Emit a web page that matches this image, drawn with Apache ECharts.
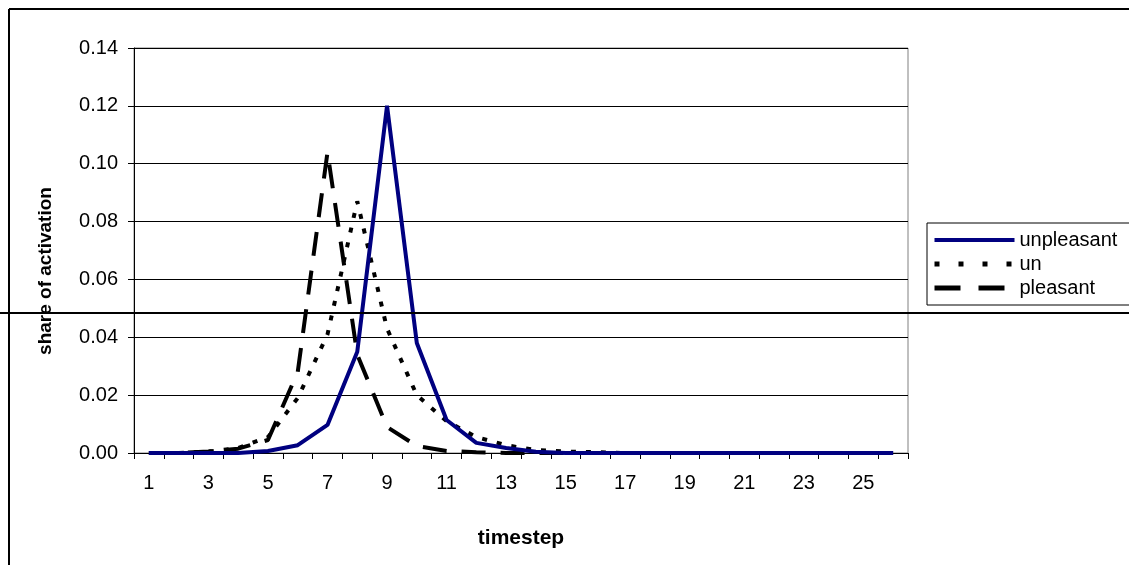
<!DOCTYPE html>
<html>
<head>
<meta charset="utf-8">
<script src="https://cdn.jsdelivr.net/npm/echarts@6/dist/echarts.min.js"></script>
<style>
	html, body { margin: 0; padding: 0; background: #fff; }
	#chart { width: 1129px; height: 565px; }
</style>
</head>
<body>
<div id="chart"></div>
<script>
// values
var timesteps = ['1','2','3','4','5','6','7','8','9','10','11','12','13','14','15','16','17','18','19','20','21','22','23','24','25','26'];
var unpleasant = [0, 0, 0, 0, 0.0007, 0.0027, 0.0097, 0.035, 0.120, 0.038, 0.0114, 0.0035, 0.0017, 0.0004, 0, 0, 0, 0, 0, 0, 0, 0, 0, 0, 0, 0];
var un = [0, 0, 0.0005, 0.0017, 0.0055, 0.019, 0.041, 0.087, 0.043, 0.020, 0.011, 0.0055, 0.0027, 0.001, 0.0005, 0.0003, 0, 0, 0, 0, 0, 0, 0, 0, 0, 0];
var pleasant = [0, 0, 0.0005, 0.0015, 0.0045, 0.028, 0.104, 0.034, 0.009, 0.0024, 0.0007, 0.0003, 0, 0, 0, 0, 0, 0, 0, 0, 0, 0, 0, 0, 0, 0];
var yTicks = { min: 0, max: 0.14, step: 0.02 };

var font = 'Liberation Sans';
var chart = echarts.init(document.getElementById('chart'), null, { renderer: 'canvas' });

chart.setOption({
	animation: false,
	backgroundColor: '#fff',
	textStyle: { fontFamily: font },
	grid: {
		left: 134,
		top: 48,
		width: 774,
		height: 405,
		show: true,
		borderColor: '#808080',
		borderWidth: 1
	},
	legend: {
		orient: 'vertical',
		left: 927,
		top: 223,
		padding: [7, 60, 7, 5],
		itemWidth: 80,
		itemHeight: 20,
		itemGap: 4,
		borderColor: '#000',
		borderWidth: 1,
		itemStyle: { opacity: 0 },
		textStyle: { fontFamily: font, fontSize: 20, color: '#000' },
		data: [
			{ name: 'unpleasant', lineStyle: { width: 4, type: 'solid' } },
			{ name: 'un', lineStyle: { width: 5, type: [5, 19], cap: 'butt' } },
			{ name: 'pleasant', lineStyle: { width: 5, type: [26, 18], cap: 'butt' } }
		]
	},
	xAxis: {
		type: 'category',
		data: timesteps,
		boundaryGap: true,
		name: 'timestep',
		nameLocation: 'middle',
		nameGap: 75,
		nameTextStyle: { fontFamily: font, fontSize: 21, fontWeight: 'bold', color: '#000' },
		axisLine: { lineStyle: { color: '#000', width: 1 } },
		axisTick: { show: true, interval: 0, length: 6, lineStyle: { color: '#000' } },
		axisLabel: { interval: 1, margin: 20, fontSize: 20, color: '#000', fontFamily: font }
	},
	yAxis: {
		type: 'value',
		min: yTicks.min,
		max: yTicks.max,
		interval: yTicks.step,
		axisLine: { show: true, lineStyle: { color: '#000', width: 1 } },
		axisTick: { show: true, length: 6, lineStyle: { color: '#000' } },
		axisLabel: {
			margin: 16,
			fontSize: 20,
			color: '#000',
			fontFamily: font,
			formatter: function (v) { return v.toFixed(2); }
		},
		splitLine: { show: true, lineStyle: { color: '#000', width: 1 } }
	},
	series: [
		{
			name: 'unpleasant',
			type: 'line',
			data: unpleasant,
			symbol: 'none',
			z: 3,
			lineStyle: { color: '#000080', width: 4 },
			itemStyle: { color: '#000080' }
		},
		{
			name: 'un',
			type: 'line',
			data: un,
			symbol: 'none',
			z: 2,
			lineStyle: { color: '#000', width: 4, type: [5, 10], cap: 'butt' },
			itemStyle: { color: '#000' }
		},
		{
			name: 'pleasant',
			type: 'line',
			data: pleasant,
			symbol: 'none',
			z: 2,
			lineStyle: { color: '#000', width: 4, type: [24, 15], cap: 'butt' },
			itemStyle: { color: '#000' }
		}
	],
	graphic: [
		{
			type: 'text',
			x: 46,
			y: 271,
			rotation: Math.PI / 2,
			style: {
				text: 'share of activation',
				font: 'bold 19px "Liberation Sans"',
				fill: '#000',
				textAlign: 'center',
				textVerticalAlign: 'middle'
			}
		},
		// outer frame, only the top and left edges fall inside the picture
		{ type: 'line', z: 100, shape: { x1: 9, y1: 9, x2: 1129, y2: 9 }, style: { stroke: '#000', lineWidth: 2 } },
		{ type: 'line', z: 100, shape: { x1: 9, y1: 9, x2: 9, y2: 565 }, style: { stroke: '#000', lineWidth: 2 } },
		// stray rule across the whole picture
		{ type: 'line', z: 100, shape: { x1: 0, y1: 313, x2: 1129, y2: 313 }, style: { stroke: '#000', lineWidth: 2 } }
	]
});
</script>
</body>
</html>
